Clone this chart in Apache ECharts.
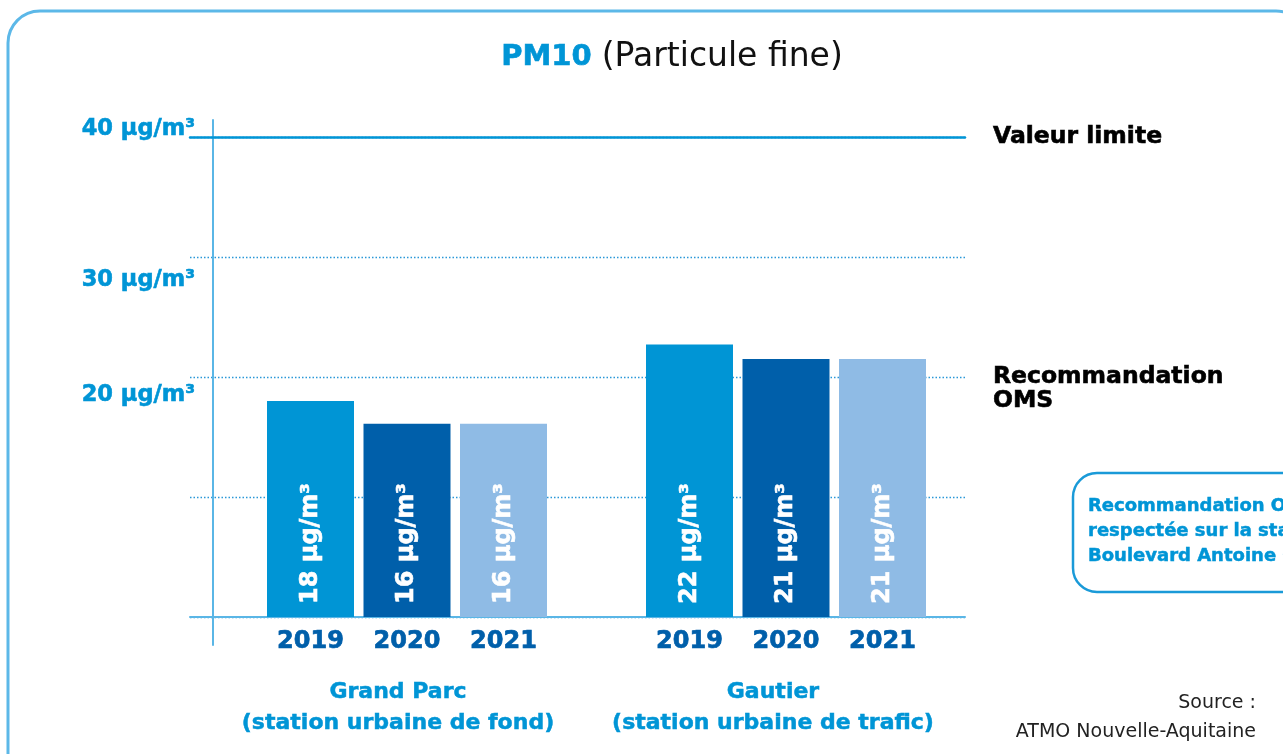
<!DOCTYPE html>
<html>
<head>
<meta charset="utf-8">
<script src="https://cdn.jsdelivr.net/npm/echarts@6/dist/echarts.min.js"></script>
<style>
html,body{margin:0;padding:0;background:#fff;}
#chart{width:1283px;height:754px;}
</style>
</head>
<body>
<div id="chart"></div>
<script>
// ---- data ----
const years = ['2019', '2020', '2021'];
const grandParcValues = [18, 16.1, 16.1];
const gautierValues = [22.7, 21.5, 21.5];
const grandParcLabels = ['18', '16', '16'];
const gautierLabels = ['22', '21', '21'];
const stationNames = ['Grand Parc\n(station urbaine de fond)', 'Gautier\n(station urbaine de trafic)'];
const yTickLabelValues = [20, 30, 40];
const unit = 'µg/m³';
const refValues = [40, 20];
const refLabels = ['Valeur limite', '\nRecommandation\nOMS'];
const yearColors = ['#0095d5', '#005faa', '#8fbbe5'];

const BLUE = '#0095d6';
const DARK = '#005faa';
const LIGHT = '#5ab6e6';
const FONT = '"DejaVu Sans"';

function barSeries(values, labels, xi, yi) {
  return {
    type: 'bar', xAxisIndex: xi, yAxisIndex: yi, barWidth: 87,
    data: values.map((v, i) => ({ value: v, itemStyle: { color: yearColors[i] } })),
    label: {
      show: true, position: 'insideBottom', rotate: 90, align: 'left', verticalAlign: 'middle',
      distance: 13, color: '#fff', fontFamily: FONT, fontWeight: 'bold', fontSize: 24,
      textBorderColor: '#fff', textBorderWidth: 0.6,
      formatter: p => labels[p.dataIndex] + ' ' + unit
    }
  };
}

function stationAxis(gridIndex, name, padRight) {
  return {
    type: 'category', gridIndex: gridIndex, data: years,
    axisLine: { show: false }, axisTick: { show: false },
    axisLabel: { color: DARK, fontFamily: FONT, fontWeight: 'bold', fontSize: 24, margin: 13,
      textBorderColor: DARK, textBorderWidth: 0.7 },
    name: name, nameLocation: 'middle', nameGap: 60,
    nameTextStyle: { color: BLUE, fontFamily: FONT, fontWeight: 'bold', fontSize: 22, lineHeight: 31,
      textBorderColor: BLUE, textBorderWidth: 0.5, padding: [0, padRight, 0, 0] }
  };
}

const yRich = pad => ({ color: BLUE, fontFamily: FONT, fontWeight: 'bold', fontSize: 22.5,
  textBorderColor: BLUE, textBorderWidth: 0.6, padding: pad });

const chart = echarts.init(document.getElementById('chart'));
chart.setOption({
  animation: false,
  title: {
    text: '{a|PM10}{s| }{b|(Particule fine)}',
    left: 667, top: 36, textAlign: 'center',
    textStyle: {
      rich: {
        a: { fontFamily: FONT, fontWeight: 'bold', fontSize: 29, color: BLUE, textBorderColor: BLUE, textBorderWidth: 0.6 },
        s: { fontFamily: FONT, fontSize: 33, width: 10 },
        b: { fontFamily: FONT, fontWeight: 'normal', fontSize: 33, color: '#111' }
      }
    }
  },
  grid: [
    { left: 190, right: 318, top: 137, bottom: 137 },
    { left: 262.25, width: 289.5, top: 137, bottom: 137 },
    { left: 641.25, width: 289.5, top: 137, bottom: 137 },
    { left: 213, width: 10, top: 120, bottom: 109 }
  ],
  xAxis: [
    { type: 'value', gridIndex: 0, min: 0, max: 1, position: 'bottom',
      axisLine: { show: true, onZero: false, lineStyle: { color: LIGHT, width: 2 } },
      axisTick: { show: false }, axisLabel: { show: false }, splitLine: { show: false } },
    { type: 'value', gridIndex: 0, min: 0, max: 1, position: 'top',
      axisLine: { show: true, onZero: false, lineStyle: { color: BLUE, width: 2.5 } },
      axisTick: { show: false }, axisLabel: { show: false }, splitLine: { show: false } },
    stationAxis(1, stationNames[0], 18),
    stationAxis(2, stationNames[1], 26),
    { type: 'value', gridIndex: 3, min: 0, max: 1, show: false }
  ],
  yAxis: [
    { type: 'value', gridIndex: 0, min: 0, max: 40, interval: 10, position: 'left',
      axisLine: { show: false }, axisTick: { show: false },
      splitLine: { show: true, lineStyle: { color: '#2a98d8', width: 1.3, type: [1.5, 2] } },
      axisLabel: {
        margin: -5, align: 'right',
        formatter: v => yTickLabelValues.indexOf(v) >= 0 ? '{t' + v + '|' + v + ' ' + unit + '}' : '',
        rich: {
          t40: yRich([0, 0, 15, 0]),
          t30: yRich([46, 0, 0, 0]),
          t20: yRich([36, 0, 0, 0])
        }
      } },
    { type: 'value', gridIndex: 0, min: 0, max: 40, interval: 10, position: 'right',
      axisLine: { show: false }, axisTick: { show: false }, splitLine: { show: false },
      axisLabel: {
        margin: 28, align: 'left', color: '#000', fontFamily: FONT, fontWeight: 'bold', fontSize: 23.5, lineHeight: 24,
        textBorderColor: '#000', textBorderWidth: 0.6,
        formatter: v => { const i = refValues.indexOf(v); return i >= 0 ? refLabels[i] : ''; }
      } },
    { type: 'value', gridIndex: 1, min: 0, max: 40, show: false },
    { type: 'value', gridIndex: 2, min: 0, max: 40, show: false },
    { type: 'value', gridIndex: 3, min: 0, max: 1, position: 'left',
      axisLine: { show: true, onZero: false, lineStyle: { color: LIGHT, width: 2 } },
      axisTick: { show: false }, axisLabel: { show: false }, splitLine: { show: false } }
  ],
  series: [
    barSeries(grandParcValues, grandParcLabels, 2, 2),
    barSeries(gautierValues, gautierLabels, 3, 3)
  ],
  graphic: [
    { type: 'rect', silent: true, z: -1,
      shape: { x: 8, y: 11, width: 1300, height: 780, r: 32 },
      style: { fill: 'none', stroke: '#5cb8e8', lineWidth: 3 } },
    { type: 'rect', silent: true,
      shape: { x: 1073, y: 473, width: 260, height: 119, r: 24 },
      style: { fill: '#fff', stroke: '#1a9ad8', lineWidth: 2.5 } },
    { type: 'text', silent: true, x: 1088, y: 494,
      style: { text: 'Recommandation OMS non\nrespectée sur la station\nBoulevard Antoine Gautier',
        fill: BLUE, font: 'bold 18px "DejaVu Sans"', lineHeight: 25, textAlign: 'left', textVerticalAlign: 'top',
        stroke: BLUE, lineWidth: 0.5 } },
    { type: 'text', silent: true, x: 1256, y: 703,
      style: { text: 'Source :', fill: '#222', font: '19px "DejaVu Sans"', textAlign: 'right', textVerticalAlign: 'middle' } },
    { type: 'text', silent: true, x: 1256, y: 732,
      style: { text: 'ATMO Nouvelle-Aquitaine', fill: '#222', font: '19px "DejaVu Sans"', textAlign: 'right', textVerticalAlign: 'middle' } }
  ]
});
</script>
</body>
</html>
